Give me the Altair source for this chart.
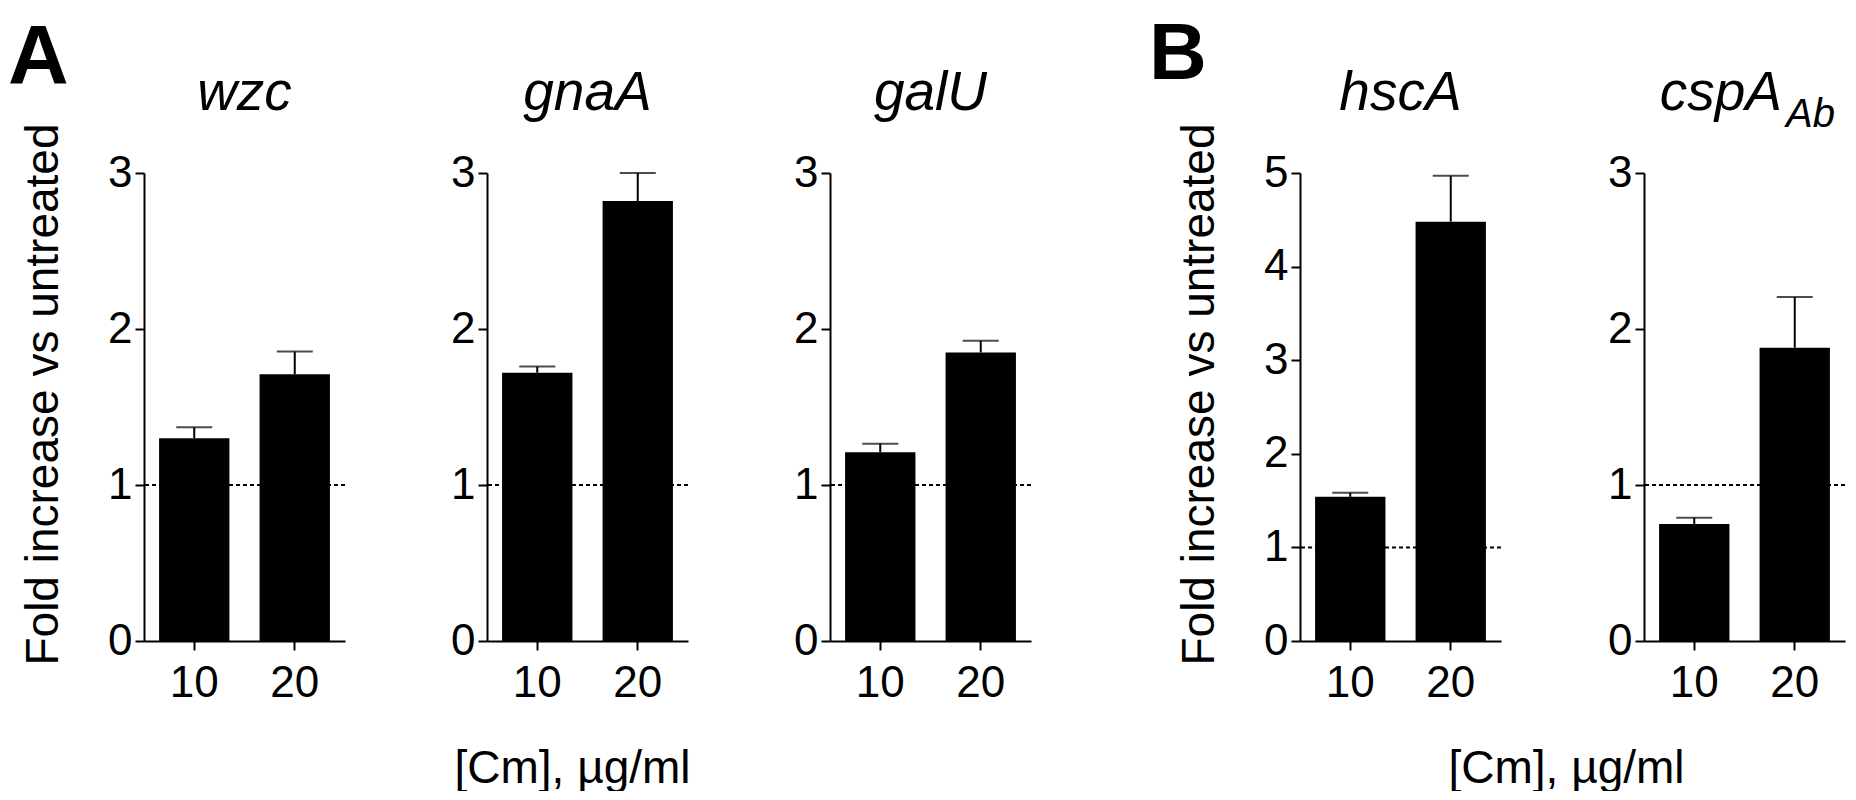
import altair as alt
import pandas as pd

FONT = "Liberation Sans"

# chloramphenicol dose, µg/ml
doses = ["10", "20"]

# mean fold increase and error (upper bar length) per gene
wzc_mean = [1.30, 1.71]
wzc_err = [0.07, 0.145]
gnaA_mean = [1.72, 2.82]
gnaA_err = [0.04, 0.18]
galU_mean = [1.21, 1.85]
galU_err = [0.055, 0.075]
hscA_mean = [1.54, 4.48]
hscA_err = [0.045, 0.49]
cspA_mean = [0.75, 1.88]
cspA_err = [0.04, 0.325]

W, H = 201, 468


def panel(title, mean, err, ymax, ytitle=False, xtitle_x=None, letter=None,
          letter_size=84, letter_dx=-140, letter_y=-91, sub=None):
    df = pd.DataFrame({"dose": doses, "mean": mean,
                       "upper": [m + e for m, e in zip(mean, err)]})
    x_axis = alt.Axis(labelAngle=0, tickSize=9, labelPadding=11, title=None)
    if xtitle_x is not None:
        x_axis = alt.Axis(labelAngle=0, tickSize=9, labelPadding=11,
                          title="[Cm], µg/ml", titleX=xtitle_x, titleY=141,
                          titleBaseline="alphabetic", titleAlign="center",
                          titleFontSize=46, titleFontWeight="normal", titleFont=FONT)
    y_axis = alt.Axis(values=list(range(ymax + 1)), tickSize=9, labelPadding=3,
                      title=None, format="d")
    if ytitle:
        y_axis = alt.Axis(values=list(range(ymax + 1)), tickSize=9, labelPadding=3,
                          format="d", title="Fold increase vs untreated",
                          titleX=-87, titleY=221, titleAngle=270,
                          titleBaseline="alphabetic", titleAlign="center",
                          titleFontSize=46, titleFontWeight="normal", titleFont=FONT)
    x = alt.X("dose:N", sort=doses, axis=x_axis,
              scale=alt.Scale(paddingInner=0.3, paddingOuter=0.15))
    y = alt.Y("mean:Q", axis=y_axis,
              scale=alt.Scale(domain=[0, ymax], nice=False))

    base = alt.Chart(df)
    # dotted reference line at 1 (no change)
    ref = alt.Chart(pd.DataFrame({"v": [1]})).mark_rule(
        color="black", strokeWidth=2, strokeDash=[4, 3]).encode(y=alt.Y("v:Q"))
    bars = base.mark_bar(color="black").encode(x=x, y=y)
    stem = base.mark_rule(color="black", strokeWidth=2).encode(
        x="dose:N", y="mean:Q", y2="upper:Q")
    cap = base.mark_tick(color="black", thickness=2, size=36).encode(
        x="dose:N", y="upper:Q")

    layers = [ref, bars, stem, cap]
    if sub is None:
        ttl = alt.Chart(pd.DataFrame({"t": [title]})).mark_text(
            font=FONT, fontSize=55, fontStyle="italic", baseline="alphabetic",
            align="center", color="black").encode(
            text="t:N", x=alt.value(W / 2), y=alt.value(-63))
        layers.append(ttl)
    else:
        ttl = alt.Chart(pd.DataFrame({"t": [title]})).mark_text(
            font=FONT, fontSize=55, fontStyle="italic", baseline="alphabetic",
            align="right", color="black").encode(
            text="t:N", x=alt.value(138), y=alt.value(-63))
        sb = alt.Chart(pd.DataFrame({"t": [sub]})).mark_text(
            font=FONT, fontSize=40, fontStyle="italic", baseline="alphabetic",
            align="left", color="black").encode(
            text="t:N", x=alt.value(142), y=alt.value(-46))
        layers += [ttl, sb]
    if letter is not None:
        lt = alt.Chart(pd.DataFrame({"t": [letter]})).mark_text(
            font=FONT, fontSize=letter_size, fontWeight="bold", baseline="alphabetic",
            align="left", color="black").encode(
            text="t:N", x=alt.value(letter_dx), y=alt.value(letter_y))
        layers.append(lt)
    return alt.layer(*layers).properties(width=W, height=H)


p1 = panel("wzc", wzc_mean, wzc_err, 3, ytitle=True, letter="A",
           letter_size=84, letter_dx=-136, letter_y=-89)
p2 = panel("gnaA", gnaA_mean, gnaA_err, 3, xtitle_x=85)
p3 = panel("galU", galU_mean, galU_err, 3)
p4 = panel("hscA", hscA_mean, hscA_err, 5, ytitle=True, xtitle_x=266,
           letter="B", letter_size=80, letter_dx=-151, letter_y=-94)
p5 = panel("cspA", cspA_mean, cspA_err, 3, sub="Ab")

group_a = alt.hconcat(p1, p2, p3, spacing=142, bounds="flush")
group_b = alt.hconcat(p4, p5, spacing=143, bounds="flush")

chart = (
    alt.hconcat(group_a, group_b, spacing=117)
    .properties(padding={"left": 0, "top": 7, "right": 0, "bottom": 0})
    .configure_view(stroke=None)
    .configure_axis(grid=False, domainColor="black", domainWidth=2,
                    tickColor="black", tickWidth=2, labelColor="black",
                    labelFont=FONT, labelFontSize=44, titleColor="black")
)

chart.save("out.html", embed_options={"renderer": "svg", "actions": False})
